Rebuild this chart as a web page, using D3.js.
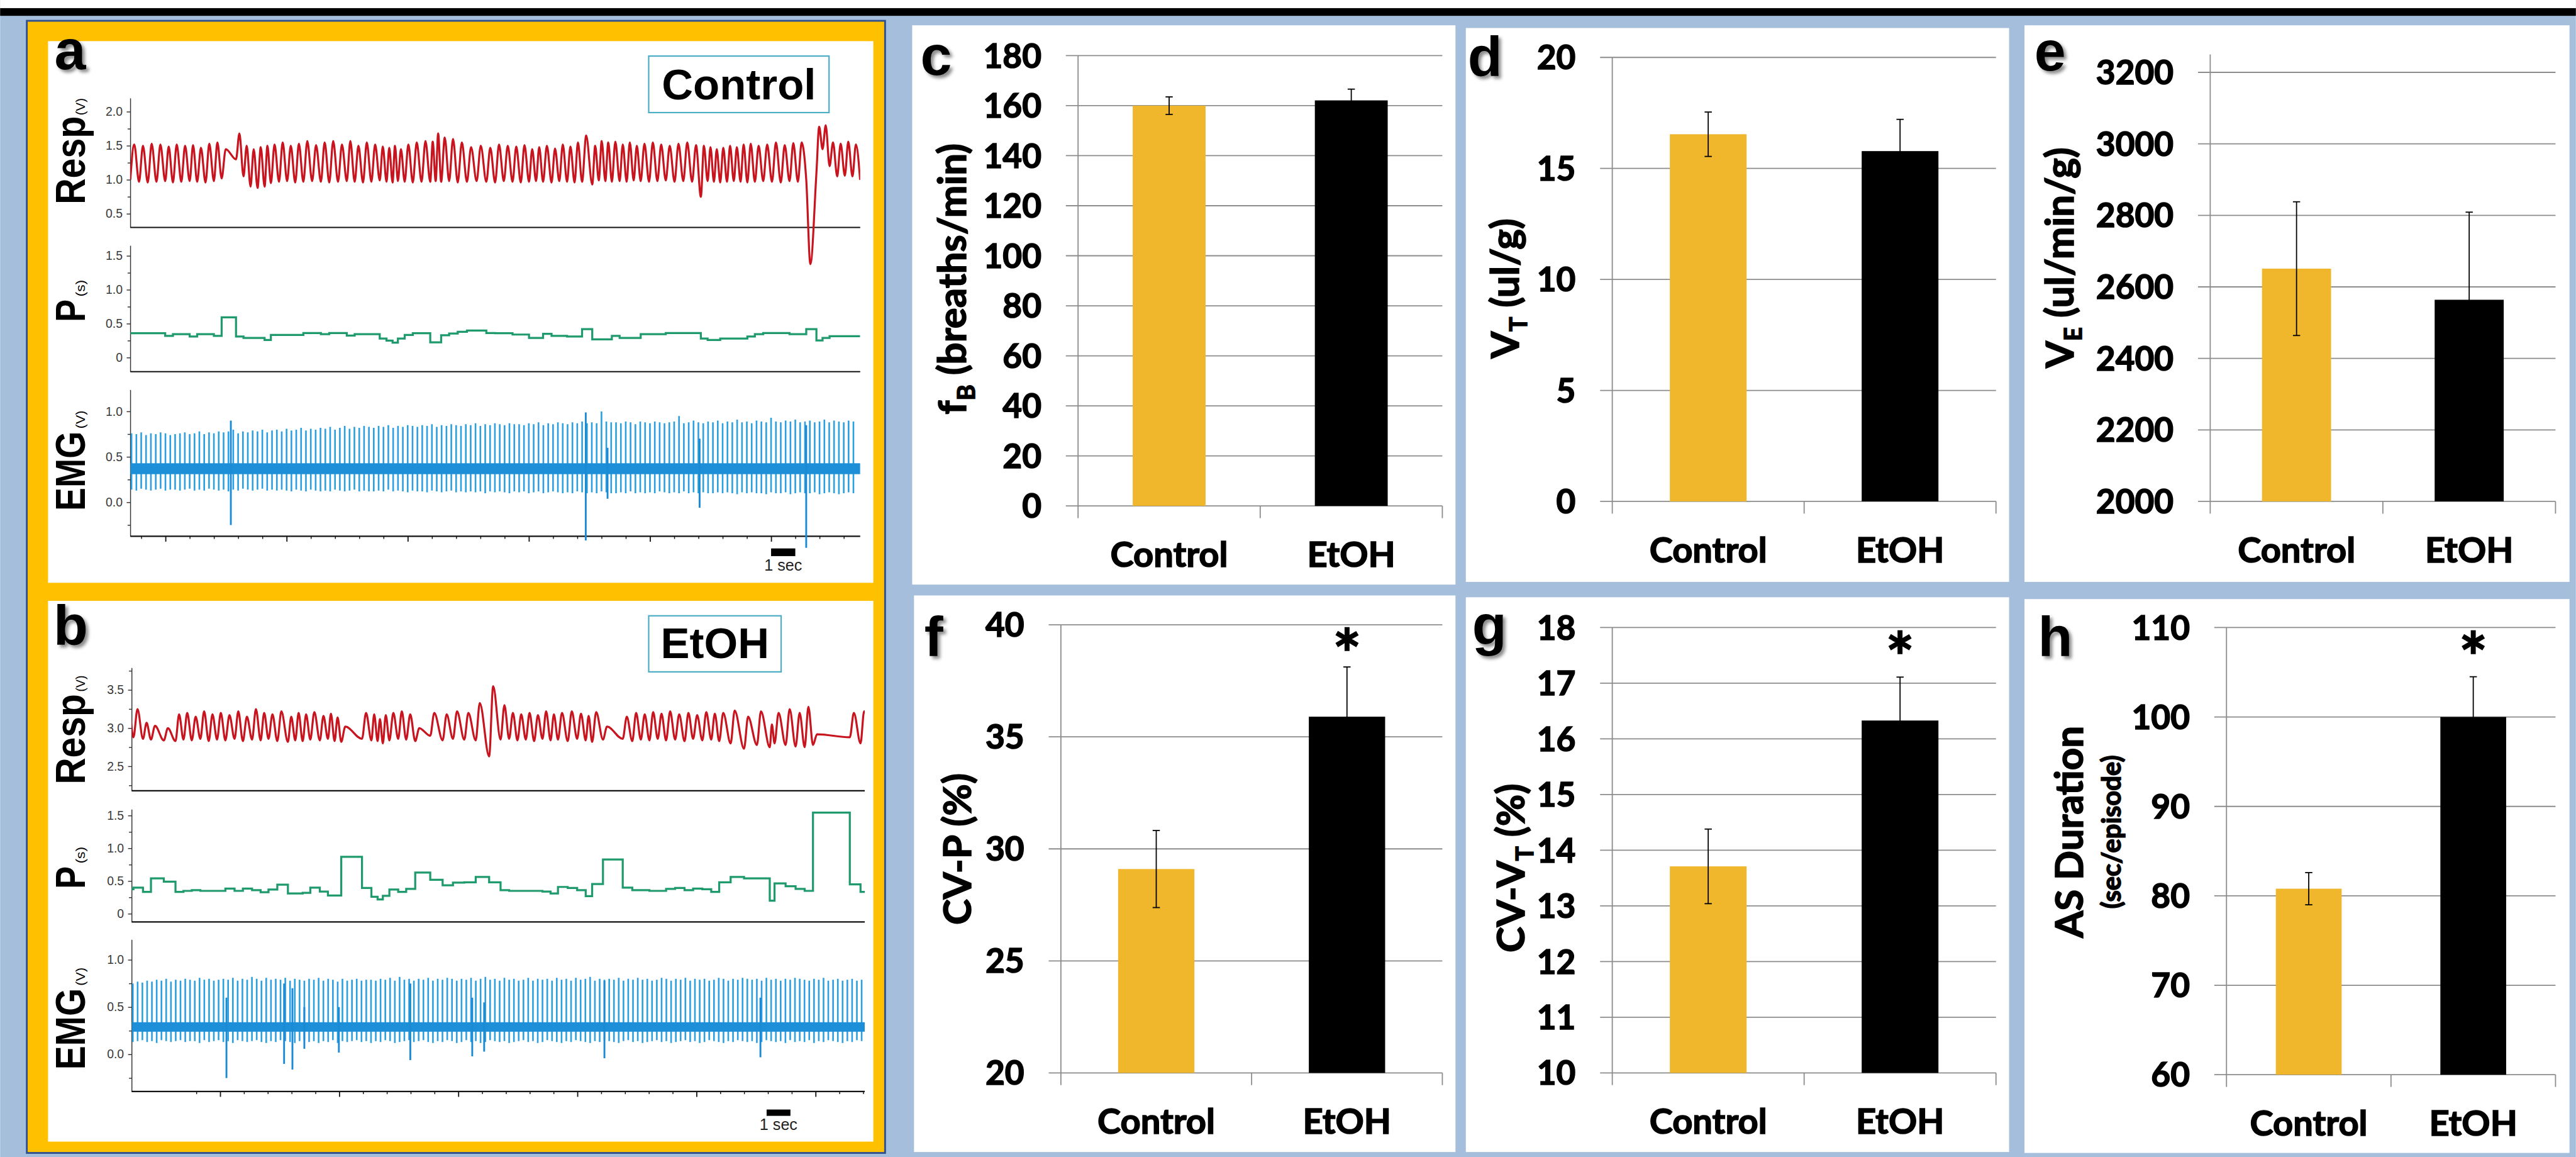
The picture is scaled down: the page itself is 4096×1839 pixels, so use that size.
<!DOCTYPE html>
<html>
<head>
<meta charset="utf-8">
<script src="https://cdn.jsdelivr.net/npm/d3@7"></script>
<style>
  html, body { margin: 0; padding: 0; background: #fff; overflow: hidden; }
  svg { display: block; }
  text { white-space: pre; }
  .heavy { stroke: #000; stroke-width: 2.2px; paint-order: stroke; }
</style>
</head>
<body>
<svg id="fig"></svg>
<script>
// ---------- bar chart data (panels c-h) ----------
const groups = ["Control", "EtOH"];
const fbMean = [160.0, 162.1];
const fbErr = [3.5, 4.5];
const vtMean = [16.54, 15.78];
const vtErr = [1.0, 1.43];
const veMean = [2651, 2564];
const veErr = [187, 245];
const cvpMean = [29.1, 35.9];
const cvpErr = [1.72, 2.22];
const cvvtMean = [13.71, 16.33];
const cvvtErr = [0.67, 0.78];
const asdMean = [80.8, 100.0];
const asdErr = [1.8, 4.5];
const significant = [false, true];

const fbTicks = [0, 20, 40, 60, 80, 100, 120, 140, 160, 180];
const vtTicks = [0, 5, 10, 15, 20];
const veTicks = [2000, 2200, 2400, 2600, 2800, 3000, 3200];
const cvpTicks = [20, 25, 30, 35, 40];
const cvvtTicks = [10, 11, 12, 13, 14, 15, 16, 17, 18];
const asdTicks = [60, 70, 80, 90, 100, 110];

// ---------- trace data (panels a, b) ----------
// breath periods (s), one per breath, as shown in the P trace
const ctrlPeriod = [.36,.36,.36,.36,.32,.345,.345,.31,.345,.345,.32,.593,.31,.29,.29,.29,.26,.335,.335,.335,.335,
  .362,.362,.345,.362,.362,.325,.345,.345,.345,.28,.25,.22,.28,.335,.36,.36,.225,.225,.33,.355,.38,.40,.40,.362,
  .36,.36,.34,.34,.29,.29,.35,.32,.32,.31,.31,.42,.27,.27,.27,.32,.29,.29,.29,.345,.345,.345,.362,.362,.362,.362,
  .28,.26,.26,.28,.28,.28,.28,.31,.345,.362,.362,.362,.345,.345,.42,.253,.29,.315,.315,.315,.315];
// Resp peak (V) per breath
const ctrlPeak = [1.52,1.50,1.53,1.52,1.49,1.52,1.50,1.51,1.47,1.53,1.55,1.45,1.68,1.50,1.45,1.48,1.50,
  1.52,1.55,1.50,1.53,1.57,1.51,1.55,1.57,1.52,1.57,1.50,1.55,1.52,1.49,1.47,1.50,1.45,1.52,1.55,1.57,
  1.56,1.68,1.62,1.60,1.55,1.48,1.50,1.47,1.52,1.50,1.49,1.51,1.45,1.48,1.50,1.46,1.52,1.49,1.55,
  1.65,1.50,1.57,1.55,1.56,1.52,1.55,1.50,1.53,1.55,1.52,1.50,1.53,1.55,1.51,1.50,
  1.48,1.45,1.47,1.50,1.48,1.52,1.53,1.50,1.52,1.55,1.51,1.54,1.55,-0.24,1.78,1.80,1.55,1.53,1.56,1.52];
// Resp trough (V) at the start of each breath (+ end value)
const ctrlTrough = [1.00,0.97,0.96,0.97,0.98,0.96,0.97,0.98,0.97,0.96,0.98,1.02,1.30,1.05,0.90,0.88,0.90,0.95,
  0.97,0.98,0.96,0.97,0.98,0.97,0.96,0.97,0.98,0.97,0.96,0.97,0.99,0.97,0.96,0.98,0.97,0.96,0.97,
  0.97,0.98,0.97,0.98,0.96,0.97,0.98,0.97,0.96,0.98,0.97,0.96,0.97,0.98,0.97,0.96,0.98,0.97,0.96,
  0.97,0.93,0.99,0.98,0.97,0.98,0.97,0.99,0.98,0.97,0.98,0.99,0.97,0.98,0.97,0.75,
  0.98,0.97,0.96,0.97,0.98,0.97,0.96,0.97,0.98,0.97,0.96,0.98,0.97,1.00,1.10,1.45,1.20,1.05,1.06,1.05,1.00];
// EMG: spike top / bottom per heart beat (hundredths of V)
const ctrlEmgTop = [76,75,77,74,76,75,77,76,74,75, 76,77,75,76,78,75,77,76,78,77, 78,80,76,78,77,79,78,80,77,79,
  80,78,81,79,80,82,79,81,80,82, 81,83,80,82,84,81,83,82,84,83, 82,84,83,85,82,84,83,85,84,83,
  85,84,86,83,85,84,86,85,84,86, 85,87,84,86,85,87,86,85,87,86, 86,85,87,86,88,85,87,86,88,87,
  86,88,87,89,87,88,87,100,89,88, 88,87,89,88,86,89,88,87,89,88, 87,88,89,95,87,88,90,88,87,89,
  88,90,87,89,88,91,88,89,87,90, 89,88,93,89,88,90,89,91,88,89, 90,88,89,91,88,90,89,88,90,89];
const ctrlEmgBot = [14,13,15,14,13,14,15,13,14,14, 13,14,15,13,14,13,15,14,13,14, 12,14,13,15,14,13,14,15,13,14,
  13,14,13,12,14,13,12,14,13,12, 13,12,14,13,12,13,14,12,13,12, 12,13,12,14,12,13,12,11,13,12,
  12,11,13,12,11,12,13,11,12,11, 12,11,12,10,12,11,12,11,10,12, 11,12,10,11,12,10,11,12,11,10,
  11,10,12,11,10,11,10,12,11,10, 10,11,10,12,10,11,10,11,10,12, 11,10,11,10,12,10,11,10,11,10,
  10,11,10,11,10,9,11,10,11,10, 10,9,11,10,10,11,9,10,11,10, 10,11,9,10,11,10,9,10,11,10];
const ctrlArtT = [4.15, 18.8, 19.7, 23.5, 27.9];
const ctrlArtLo = [-0.25, -0.42, 0.04, -0.06, -0.50];
const ctrlArtHi = [0.90, 0.99, 0.60, 0.70, 0.85];
const ctrlBand = [0.31, 0.43];

const etohPeriod = [.375,.40,.335,.54,.49,.335,.35,.36,.35,.35,.35,.385,.35,.385,.36,.33,.37,.445,.31,.31,.32,.40,.34,
  .28,.28,.871,.395,.26,.22,.275,.37,.335,.38,.63,.52,.435,.475,.48,.563,.48,.36,.35,.35,.35,.35,.34,.31,.41,.395,
  .36,.27,.455,.83,.40,.36,.36,.35,.35,.38,.395,.36,.385,.375,.335,.48,.563,.54,.54,.20,.465,.42,.38,.35,1.546,.45,.335];
const etohPeak = [3.27,3.25,3.07,3.03,3.00,3.18,3.20,3.15,3.22,3.18, 3.20,3.17,3.22,3.15,3.25,3.20,3.18,3.22,3.15,3.20,
  3.18,3.21,3.16,3.19,3.14,3.02,3.20,3.18,3.12,3.17, 3.20,3.22,3.18,3.00,3.20,3.18,3.22,3.20,3.33,3.55,
  3.30,3.20,3.18,3.20,3.17,3.22,3.18,3.20,3.22,3.19, 3.16,3.21,3.02,3.15,3.20,3.18,3.21,3.19,3.22,3.18,
  3.20,3.17,3.21,3.19,3.20,3.23,3.15,3.22,3.05,3.20, 3.25,3.20,3.28,2.92,3.20,3.22];
const etohTrough = [3.05,2.88,2.86,2.85,2.84,2.83,2.85,2.84,2.86,2.83, 2.85,2.84,2.86,2.83,2.85,2.84,2.86,2.83,2.82,2.84,
  2.83,2.85,2.84,2.86,2.83,2.82,2.86,2.84,2.83,2.80, 2.84,2.86,2.85,2.83,2.90,2.84,2.86,2.85,2.84,2.63,
  2.85,2.86,2.84,2.85,2.83,2.86,2.84,2.85,2.83,2.86, 2.84,2.82,2.85,2.86,2.83,2.85,2.84,2.86,2.84,2.85,
  2.83,2.86,2.84,2.85,2.83,2.80,2.73,2.78,2.75,2.80, 2.78,2.76,2.75,2.78,2.88,2.80,3.05];
const etohEmgTop = [75,77,76,78,77,79,78,80,77,79, 78,80,79,78,81,79,80,78,79,80, 79,81,78,80,79,82,80,78,81,79,
  80,79,81,78,80,79,78,80,79,81, 78,80,79,77,80,78,79,80,78,79, 79,78,80,79,81,78,82,79,80,78,
  80,79,81,78,80,79,81,80,78,80, 79,81,78,80,82,79,80,78,81,79, 80,78,79,81,78,80,79,80,78,81,
  79,80,78,81,79,80,82,78,80,79, 80,79,81,78,80,79,81,79,80,78, 79,81,80,78,80,79,81,78,80,79,
  80,78,79,81,80,78,80,79,81,80, 79,80,78,81,79,80,78,80,79,81, 80,79,78,80,79,81,78,79,80,78, 79,80,78,79];
const etohEmgBot = [13,14,15,13,14,12,15,14,13,14, 15,13,14,14,12,15,13,14,15,13, 14,12,15,14,13,14,15,13,12,14,
  13,15,14,13,12,14,15,13,14,12, 14,13,15,12,14,13,14,15,13,14, 12,14,13,15,14,12,13,14,15,13,
  14,15,13,12,14,13,15,14,12,13, 15,13,14,12,13,15,14,13,14,12, 13,14,15,13,14,12,13,15,14,13,
  12,14,13,15,14,13,12,14,13,15, 14,13,12,14,15,13,14,12,13,14, 15,13,14,12,13,14,15,13,14,12,
  13,15,14,13,12,14,13,15,14,13, 14,12,13,15,14,13,14,12,15,13, 14,13,15,12,14,13,15,14,13,12, 14,13,15,14];
const etohArtT = [3.98, 6.4, 6.75, 7.25, 8.7, 11.7, 14.3, 14.8, 19.85, 26.4];
const etohArtLo = [-0.25, -0.10, -0.16, 0.06, 0.02, -0.06, -0.02, 0.03, -0.04, -0.03];
const etohArtHi = [0.60, 0.75, 0.70, 0.50, 0.50, 0.75, 0.60, 0.55, 0.78, 0.60];
const etohBand = [0.24, 0.34];

const respLabels = { ctrl: ["0.5", "1.0", "1.5", "2.0"], etoh: ["2.5", "3.0", "3.5"] };
const pLabels = ["0", "0.5", "1.0", "1.5"];
const emgLabels = ["0.0", "0.5", "1.0"];

// ---------- drawing ----------
const W = 5699, H = 2559;
const ARIAL = "'Liberation Sans', Arial, sans-serif";
const CAL = "Lato, 'Open Sans', sans-serif";
const gridColor = "#8c8c8c";

const svg = d3.select("#fig")
  .attr("width", 4096).attr("height", 1839)
  .attr("viewBox", `0 0 ${W} ${H}`);
const defs = svg.append("defs");
const shadow = defs.append("filter").attr("id", "shadow")
  .attr("x", "-30%").attr("y", "-30%").attr("width", "170%").attr("height", "170%");
shadow.append("feDropShadow").attr("dx", 6).attr("dy", 6).attr("stdDeviation", 4)
  .attr("flood-color", "#000").attr("flood-opacity", 0.45);

// background
svg.append("rect").attr("width", W).attr("height", H).attr("fill", "#a5bedc");
svg.append("rect").attr("width", W).attr("height", 18).attr("fill", "#fff");
svg.append("rect").attr("y", 18).attr("width", W).attr("height", 17).attr("fill", "#000");
svg.append("rect").attr("x", 59).attr("y", 46).attr("width", 1899).attr("height", 2504)
  .attr("fill", "#ffc000").attr("stroke", "#2f4f8f").attr("stroke-width", 4);

function letter(g, x, y, s) {
  g.append("text").attr("x", x).attr("y", y).attr("font-family", ARIAL).attr("font-weight", 700)
    .attr("font-size", 125).attr("filter", "url(#shadow)").text(s);
}

// ----- bar panels -----
const barPanels = [
  { L: "c", box: [2018, 56, 3220, 1293], lp: [2036, 166], x0: 2385, x1: 3191, y0: 1119, y1: 123, dom: [0, 180],
    ticks: fbTicks, mean: fbMean, err: fbErr, star: false,
    title: [["f"], ["B", "sub"], [" (breaths/min)"]], tx: 2137, ty: 617 },
  { L: "d", box: [3243, 62, 4445, 1287], lp: [3247, 168], x0: 3567, x1: 4416, y0: 1109, y1: 127, dom: [0, 20],
    ticks: vtTicks, mean: vtMean, err: vtErr, star: false,
    title: [["V"], ["T", "sub"], [" (ul/g)"]], tx: 3360, ty: 638 },
  { L: "e", box: [4479, 56, 5685, 1287], lp: [4501, 156], x0: 4890, x1: 5654, y0: 1109, y1: 120.5, dom: [2000, 3250],
    ticks: veTicks, mean: veMean, err: veErr, star: false,
    title: [["V"], ["E", "sub"], [" (ul/min/g)"]], tx: 4587, ty: 570 },
  { L: "f", box: [2022, 1317, 3220, 2548], lp: [2045, 1451], x0: 2347, x1: 3191, y0: 2373, y1: 1382, dom: [20, 40],
    ticks: cvpTicks, mean: cvpMean, err: cvpErr, star: true,
    title: [["CV-P (%)"]], tx: 2148, ty: 1878 },
  { L: "g", box: [3243, 1321, 4445, 2548], lp: [3257, 1425], x0: 3567, x1: 4416, y0: 2373, y1: 1388, dom: [10, 18],
    ticks: cvvtTicks, mean: cvvtMean, err: cvvtErr, star: true,
    title: [["CV-V"], ["T", "sub"], [" (%)"]], tx: 3373, ty: 1920 },
  { L: "h", box: [4479, 1325, 5685, 2550], lp: [4509, 1451], x0: 4926, x1: 5654, y0: 2377, y1: 1388, dom: [60, 110],
    ticks: asdTicks, mean: asdMean, err: asdErr, star: true,
    title: [["AS Duration"]], tx: 4608, ty: 1840, title2: "(sec/episode)", tx2: 4692 }
];

function rotTitle(g, x, y, parts, size) {
  const t = g.append("text").attr("class", "heavy").attr("transform", `translate(${x},${y}) rotate(-90)`)
    .attr("text-anchor", "middle").attr("font-family", CAL).attr("font-weight", 700)
    .attr("font-size", size).attr("fill", "#000");
  let shift = 0;
  parts.forEach(([s, kind]) => {
    const ts = t.append("tspan").text(s);
    if (kind === "sub") { shift = size * 0.22; ts.attr("font-size", size * 0.62).attr("dy", shift); }
    else if (shift) { ts.attr("dy", -shift); shift = 0; }
  });
}

barPanels.forEach(p => {
  const g = svg.append("g");
  g.append("rect").attr("x", p.box[0]).attr("y", p.box[1])
    .attr("width", p.box[2] - p.box[0]).attr("height", p.box[3] - p.box[1]).attr("fill", "#fff");

  const x = d3.scaleBand().domain(groups).range([p.x0, p.x1]).paddingInner(0.6).paddingOuter(0.3);
  const y = d3.scaleLinear().domain(p.dom).range([p.y0, p.y1]);

  g.selectAll(".grid").data(p.ticks).join("line")
    .attr("x1", p.x0 - 27).attr("x2", p.x1)
    .attr("y1", d => y(d)).attr("y2", d => y(d))
    .attr("stroke", gridColor).attr("stroke-width", 2.5);
  g.append("line").attr("x1", p.x0).attr("x2", p.x0)
    .attr("y1", y(p.dom[0])).attr("y2", y(p.dom[1]))
    .attr("stroke", gridColor).attr("stroke-width", 2.5);
  g.selectAll(".xt").data(d3.range(groups.length + 1)).join("line")
    .attr("x1", i => p.x0 + i * x.step()).attr("x2", i => p.x0 + i * x.step())
    .attr("y1", p.y0).attr("y2", p.y0 + 27)
    .attr("stroke", gridColor).attr("stroke-width", 2.5);

  g.selectAll(".tl").data(p.ticks).join("text")
    .attr("class", "heavy")
    .attr("x", p.x0 - 81).attr("y", d => y(d)).attr("dy", "0.36em")
    .attr("text-anchor", "end").attr("font-family", CAL).attr("font-weight", 700)
    .attr("font-size", 74).text(d => d);

  g.selectAll(".bar").data(groups).join("rect")
    .attr("x", d => x(d)).attr("width", x.bandwidth())
    .attr("y", (d, i) => y(p.mean[i])).attr("height", (d, i) => p.y0 - y(p.mean[i]))
    .attr("fill", (d, i) => i === 0 ? "#f0b72d" : "#000");

  groups.forEach((d, i) => {
    const cx = x(d) + x.bandwidth() / 2;
    const lo = y(p.mean[i] - p.err[i]), hi = y(p.mean[i] + p.err[i]);
    g.append("line").attr("x1", cx).attr("x2", cx).attr("y1", lo).attr("y2", hi)
      .attr("stroke", "#000").attr("stroke-width", 2.5);
    [lo, hi].forEach(yy => g.append("line").attr("x1", cx - 8).attr("x2", cx + 8)
      .attr("y1", yy).attr("y2", yy).attr("stroke", "#000").attr("stroke-width", 2.5));
    g.append("text").attr("class", "heavy").attr("x", cx).attr("y", p.y0 + 135).attr("text-anchor", "middle")
      .attr("font-family", CAL).attr("font-weight", 700).attr("font-size", 78).text(d);
    if (p.star && significant[i]) {
      g.append("text").attr("class", "heavy").attr("x", cx).attr("y", p.y1 + 40 + 80).attr("text-anchor", "middle")
        .attr("font-family", CAL).attr("font-weight", 700).attr("font-size", 150).text("*");
    }
  });

  rotTitle(g, p.tx, p.ty, p.title, 86);
  if (p.title2) rotTitle(g, p.tx2, p.ty, [[p.title2]], 58);
  letter(g, p.lp[0], p.lp[1], p.L);
});

// ----- trace panels -----
const tracePanels = [
  { id: "a", box: [106, 91, 1932, 1289], L: [120, 153], cond: "Control", cbox: [1435, 124, 1834, 249], cbase: 220,
    x0: 288, x1: 1903, tEnd: 30.13, tickStart: 1.455, bar: 26.45, barY: [1213, 1230], barText: 1262, t0: 0,
    period: ctrlPeriod, peak: ctrlPeak, trough: ctrlTrough,
    emgTop: ctrlEmgTop, emgBot: ctrlEmgBot, artT: ctrlArtT, artLo: ctrlArtLo, artHi: ctrlArtHi, band: ctrlBand,
    rows: [
      { k: "resp", top: 217, bottom: 503, dom: [0.3, 2.2], ticks: [0.5, 1.0, 1.5, 2.0], labels: respLabels.ctrl,
        minor: [0.75, 1.25, 1.75], name: ["Resp", 452, 195], unit: ["(V)", 255, 38] },
      { k: "p", top: 543, bottom: 822, dom: [-0.207, 1.653], ticks: [0, 0.5, 1.0, 1.5], labels: pLabels,
        minor: [0.25, 0.75, 1.25], name: ["P", 712, 50], unit: ["(s)", 656, 37] },
      { k: "emg", top: 862, bottom: 1186, dom: [-0.373, 1.239], ticks: [0, 0.5, 1.0], labels: emgLabels,
        minor: [-0.25, 0.25, 0.75], name: ["EMG", 1130, 176], unit: ["(V)", 948, 40] }
    ] },
  { id: "b", box: [106, 1329, 1932, 2525], L: [118, 1427], cond: "EtOH", cbox: [1435, 1362, 1728, 1486], cbase: 1455,
    x0: 291, x1: 1913, tEnd: 30.78, tickStart: 3.718, bar: 26.66, barY: [2454, 2468], barText: 2499, t0: -0.3,
    period: etohPeriod, peak: etohPeak, trough: etohTrough,
    emgTop: etohEmgTop, emgBot: etohEmgBot, artT: etohArtT, artLo: etohArtLo, artHi: etohArtHi, band: etohBand,
    rows: [
      { k: "resp", top: 1477, bottom: 1749, dom: [2.18, 3.79], ticks: [2.5, 3.0, 3.5], labels: respLabels.etoh,
        minor: [2.25, 2.75, 3.25, 3.75], name: ["Resp", 1735, 200], unit: ["(V)", 1530, 36] },
      { k: "p", top: 1790, bottom: 2039, dom: [-0.124, 1.596], ticks: [0, 0.5, 1.0, 1.5], labels: pLabels,
        minor: [0.25, 0.75, 1.25], name: ["P", 1966, 50], unit: ["(s)", 1910, 37] },
      { k: "emg", top: 2078, bottom: 2414, dom: [-0.392, 1.215], ticks: [0, 0.5, 1.0], labels: emgLabels,
        minor: [-0.25, 0.25, 0.75], name: ["EMG", 2366, 180], unit: ["(V)", 2180, 40] }
    ] }
];

function vlabel(g, yStart, s, size, weight, len) {
  g.append("text").attr("transform", `translate(187,${yStart}) rotate(-90)`)
    .attr("font-family", ARIAL).attr("font-weight", weight).attr("font-size", size)
    .attr("textLength", len).attr("lengthAdjust", "spacingAndGlyphs").text(s);
}

tracePanels.forEach(T => {
  const g = svg.append("g");
  g.append("rect").attr("x", T.box[0]).attr("y", T.box[1])
    .attr("width", T.box[2] - T.box[0]).attr("height", T.box[3] - T.box[1]).attr("fill", "#fff");

  const x = d3.scaleLinear().domain([0, T.tEnd]).range([T.x0, T.x1]);
  defs.append("clipPath").attr("id", "clip" + T.id).append("rect")
    .attr("x", T.x0).attr("y", 0).attr("width", T.x1 - T.x0).attr("height", H);

  // breath timing from the periods
  const starts = [];
  let t = T.t0;
  T.period.forEach(p => { starts.push(t); t += p; });
  const tLast = t;

  T.rows.forEach(r => {
    const y = d3.scaleLinear().domain(r.dom).range([r.bottom, r.top]);
    const ax = g.append("g").attr("transform", `translate(${T.x0},0)`)
      .call(d3.axisLeft(y).tickValues(r.ticks).tickFormat((d, i) => r.labels[i])
        .tickSize(8).tickPadding(9).tickSizeOuter(0));
    ax.select(".domain").attr("stroke", "#333").attr("stroke-width", 2);
    ax.selectAll(".tick line").attr("stroke", "#333").attr("stroke-width", 2);
    ax.selectAll(".tick text").attr("font-family", ARIAL).attr("font-size", 27).attr("fill", "#3a3a3a");
    const mx = g.append("g").attr("transform", `translate(${T.x0},0)`)
      .call(d3.axisLeft(y).tickValues(r.minor).tickFormat("").tickSize(6).tickSizeOuter(0));
    mx.select(".domain").remove();
    mx.selectAll(".tick line").attr("stroke", "#333").attr("stroke-width", 2);

    g.append("line").attr("x1", T.x0).attr("x2", T.x1).attr("y1", r.bottom).attr("y2", r.bottom)
      .attr("stroke", "#111").attr("stroke-width", 3);

    const cg = g.append("g").attr("clip-path", `url(#clip${T.id})`);

    if (r.k === "resp") {
      const pts = [];
      T.period.forEach((p, i) => {
        pts.push([starts[i], T.trough[i]]);
        pts.push([starts[i] + Math.min(0.45 * p, 0.17), T.peak[i]]);
      });
      pts.push([tLast, T.trough[T.period.length]]);
      cg.append("path").datum(pts)
        .attr("d", d3.line().x(d => x(d[0])).y(d => y(d[1])).curve(d3.curveMonotoneX))
        .attr("fill", "none").attr("stroke", "#c8141e").attr("stroke-width", 4.5)
        .attr("stroke-linejoin", "round");
    } else if (r.k === "p") {
      const pts = T.period.map((p, i) => [starts[i], p]);
      pts.push([tLast, T.period[T.period.length - 1]]);
      cg.append("path").datum(pts)
        .attr("d", d3.line().x(d => x(d[0])).y(d => y(d[1])).curve(d3.curveStepAfter))
        .attr("fill", "none").attr("stroke", "#1f9a6c").attr("stroke-width", 4.5);
    } else {
      const beat = 0.2;
      const sp = d3.path();
      T.emgTop.forEach((v, k) => {
        const xx = x(0.05 + k * beat);
        sp.moveTo(xx, y(T.emgBot[k] / 100));
        sp.lineTo(xx, y(v / 100));
      });
      cg.append("path").attr("d", sp.toString()).attr("fill", "none")
        .attr("stroke", "#2b9fdf").attr("stroke-width", 3.6);
      cg.append("rect").attr("x", T.x0).attr("width", T.x1 - T.x0)
        .attr("y", y(T.band[1])).attr("height", y(T.band[0]) - y(T.band[1]))
        .attr("fill", "#1d8fd8");
      const ap = d3.path();
      T.artT.forEach((tt, k) => { ap.moveTo(x(tt), y(T.artLo[k])); ap.lineTo(x(tt), y(T.artHi[k])); });
      cg.append("path").attr("d", ap.toString()).attr("fill", "none")
        .attr("stroke", "#1a8ad4").attr("stroke-width", 4);

      // time axis
      const all = d3.range(T.tickStart - 1, T.tEnd, 1).filter(v => v >= 0);
      const isMajor = v => { const m = ((v - T.tickStart) % 5 + 5) % 5; return m < 1e-6 || 5 - m < 1e-6; };
      const major = all.filter(isMajor);
      const minor = all.filter(v => !isMajor(v));
      const xa = g.append("g").attr("transform", `translate(0,${r.bottom})`)
        .call(d3.axisBottom(x).tickValues(major).tickFormat("").tickSize(12).tickSizeOuter(0));
      xa.select(".domain").remove();
      xa.selectAll(".tick line").attr("stroke", "#111").attr("stroke-width", 2.5);
      const xm = g.append("g").attr("transform", `translate(0,${r.bottom})`)
        .call(d3.axisBottom(x).tickValues(minor).tickFormat("").tickSize(6).tickSizeOuter(0));
      xm.select(".domain").remove();
      xm.selectAll(".tick line").attr("stroke", "#111").attr("stroke-width", 2);

      // 1 sec scale bar
      g.append("rect").attr("x", x(T.bar)).attr("width", x(T.bar + 1) - x(T.bar))
        .attr("y", T.barY[0]).attr("height", T.barY[1] - T.barY[0]).attr("fill", "#000");
      g.append("text").attr("x", (x(T.bar) + x(T.bar + 1)) / 2).attr("y", T.barText)
        .attr("text-anchor", "middle").attr("font-family", ARIAL).attr("font-size", 35)
        .attr("fill", "#222").text("1 sec");
    }

    vlabel(g, r.name[1], r.name[0], 92, 700, r.name[2]);
    vlabel(g, r.unit[1], r.unit[0], 28, 400, r.unit[2]);
  });

  // condition box
  g.append("rect").attr("x", T.cbox[0]).attr("y", T.cbox[1])
    .attr("width", T.cbox[2] - T.cbox[0]).attr("height", T.cbox[3] - T.cbox[1])
    .attr("fill", "#fff").attr("stroke", "#4bacc6").attr("stroke-width", 3);
  g.append("text").attr("x", (T.cbox[0] + T.cbox[2]) / 2).attr("y", T.cbase)
    .attr("text-anchor", "middle").attr("font-family", ARIAL).attr("font-weight", 700)
    .attr("font-size", 96).text(T.cond);

  letter(g, T.L[0], T.L[1], T.id);
});
</script>
</body>
</html>
